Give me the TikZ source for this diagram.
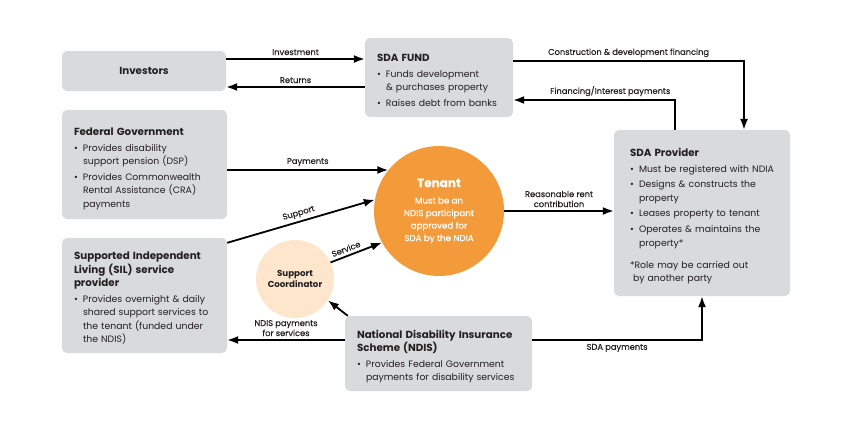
\documentclass[tikz,border=0pt]{standalone}
\usepackage{fontspec}
\setmainfont{Poppins}
\newfontfamily\labelfont[FakeBold=0.4]{Poppins}
\usetikzlibrary{arrows.meta,positioning}
\definecolor{boxgray}{HTML}{D9DADB}
\definecolor{tenorange}{HTML}{F39B3B}
\definecolor{coordpeach}{HTML}{FDE6CB}
\definecolor{inkdark}{HTML}{231F20}
\newcommand{\boxtitle}[1]{{\bfseries\fontsize{10.3}{13.5}\selectfont #1\par}}
\newcommand{\bitem}[1]{\par\vspace{2.5pt}\noindent\hangindent=9pt\hangafter=1
  {\def\\{\newline}\makebox[9pt][l]{\textbullet}#1\par}}

\begin{document}
\begin{tikzpicture}[x=1pt,y=-1pt,
  box/.style={fill=boxgray,rounded corners=5pt,inner sep=0pt},
  boxtext/.style={anchor=north west,inner sep=0pt,text width=170pt,align=left,
    font=\fontsize{9.3}{13.3}\selectfont,text=inkdark},
  flow/.style={line width=1.8pt,-{Latex[length=11pt,width=8pt]}},
  lbl/.style={font=\labelfont\fontsize{8.3}{10}\selectfont,align=center,inner sep=3pt,text=inkdark}]
\useasboundingbox (0,0) rectangle (850,426);

\node[box,minimum width=164pt,minimum height=40pt,font=\bfseries\fontsize{10.3}{12}\selectfont,text=inkdark] (inv) at (144,71) {Investors};
\node[box,minimum width=148pt,minimum height=79pt] (fund) at (439,77.5) {};
\node[box,minimum width=165pt,minimum height=109pt] (fed) at (144.5,164.5) {};
\node[box,minimum width=165pt,minimum height=115pt] (sil) at (144.5,295.5) {};
\node[box,minimum width=176pt,minimum height=166pt] (prov) at (702,213) {};
\node[box,minimum width=187pt,minimum height=75pt] (ndis) at (438.5,353.5) {};

\node[boxtext] (fundtxt) at ([shift={(12,16)}]fund.north west) {\boxtitle{SDA FUND}
  \bitem{Funds development\\\& purchases property}
  \bitem{Raises debt from banks}};
\node[boxtext] (fedtxt) at ([shift={(12,18)}]fed.north west) {\boxtitle{Federal Government}
  \bitem{Provides disability\\support pension (DSP)}
  \bitem{Provides Commonwealth\\Rental Assistance (CRA)\\payments}};
\node[boxtext] (siltxt) at ([shift={(12,14)}]sil.north west) {\boxtitle{Supported Independent\\Living (SIL) service\\provider}
  \bitem{Provides overnight \& daily\\shared support services to\\the tenant (funded under\\the NDIS)}};
\node[boxtext] (provtxt) at ([shift={(16,18)}]prov.north west) {\boxtitle{SDA Provider}
  \bitem{Must be registered with NDIA}
  \bitem{Designs \& constructs the\\property}
  \bitem{Leases property to tenant}
  \bitem{Operates \& maintains the\\property*}
  \vspace{9pt}\noindent\hangindent=3pt\hangafter=1 *Role may be carried out\newline by another party\par};
\node[boxtext] (ndistxt) at ([shift={(12,14)}]ndis.north west) {\boxtitle{National Disability Insurance\\Scheme (NDIS)}
  \bitem{Provides Federal Government\\payments for disability services}};

\node[circle,fill=tenorange,minimum size=130pt,inner sep=0pt,align=center,text=white,
  font=\labelfont\fontsize{8.7}{12.5}\selectfont] (ten) at (439,211)
  {{\bfseries\fontsize{12}{14}\selectfont Tenant}\\[4pt]Must be an\\NDIS participant\\approved for\\SDA by the NDIA};
\node[circle,fill=coordpeach,minimum size=78pt,inner sep=0pt,align=center,text=inkdark,
  font=\bfseries\fontsize{8.7}{11.5}\selectfont] (sc) at (295,279) {Support\\Coordinator};

\draw[flow] ([yshift=12pt]inv.east) -- ([yshift=12pt]inv.east -| fund.west)
  node[midway,above,lbl] {Investment};
\draw[flow] ([yshift=-16pt]inv.east -| fund.west) -- ([yshift=-16pt]inv.east)
  node[midway,above,lbl] {Returns};
\draw[flow] ([yshift=16.5pt]fund.east) -| ([xshift=42pt]prov.north)
  node[pos=0.25,above,lbl] {Construction \& development financing};
\draw[flow] ([xshift=-27pt]prov.north) |- ([yshift=-22.5pt]fund.east)
  node[pos=0.7,above,lbl] {Financing/Interest payments};
\draw[flow] (ten.141 -| fed.east) -- (ten.141)
  node[midway,above,lbl] {Payments};
\draw[flow] ([yshift=-5pt]sil.north east) -- (ten.170)
  node[midway,sloped,above,lbl] {Support};
\draw[flow] (sc.25) -- (ten.209)
  node[pos=0.35,sloped,above,lbl] {Service};
\draw[flow] (ten.east) -- (ten.east -| prov.west)
  node[midway,above,lbl] {Reasonable rent\\contribution};
\draw[flow] ([yshift=13.5pt]ndis.west) -- ([yshift=13.5pt]ndis.west -| sil.east)
  node[midway,above,lbl] {NDIS payments\\for services};
\draw[flow] ([xshift=3pt]ndis.north west) -- (sc.-33);
\draw[flow] ([yshift=13.5pt]ndis.east) -| (prov.south)
  node[pos=0.25,below,lbl] {SDA payments};
\end{tikzpicture}
\end{document}
